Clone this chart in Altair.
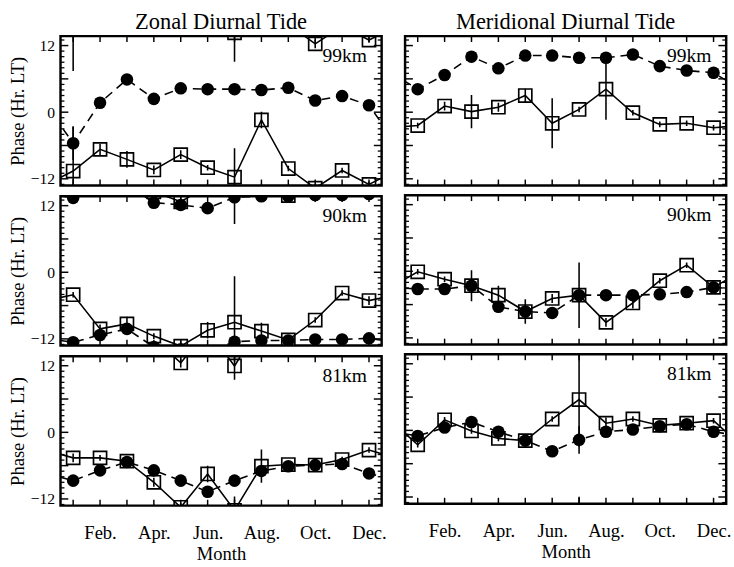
import altair as alt
import pandas as pd

SERIF = "Liberation Serif, Times New Roman, DejaVu Serif, serif"

MONTHS = list(range(1, 13))
MONTH_NAMES = ["Jan.", "Feb.", "Mar.", "Apr.", "May", "Jun.", "Jul.", "Aug.", "Sep.", "Oct.", "Nov.", "Dec."]
LABEL_MONTHS = [2, 4, 6, 8, 10, 12]
PHASE_LABELS = [-12, 0, 12]
PHASE_TICKS = list(range(-13, 14))
WRAP = 26  # offset of the repeated (wrapped) copy as drawn in the figure

# ---- Zonal diurnal tide ----
z99_circ = [-5.6, 1.7, 5.9, 2.4, 4.3, 4.15, 4.15, 4.0, 4.4, 2.1, 2.9, 1.25]
z99_circ_err = [3.0, 0.5, 0.5, 0.5, 0.5, 0.5, 0.5, 0.5, 0.5, 0.5, 0.5, 0.5]
z99_sq = [-10.6, -6.7, -8.5, -10.4, -7.65, -10.0, -11.7, -1.4, -10.15, -13.7, -10.5, -13.0]
z99_sq_err = [8.0, 1.0, 1.5, 0.8, 0.8, 0.5, 5.2, 1.5, 0.5, 0.8, 0.5, 0.5]

z90_circ = [-12.6, -11.3, -10.2, -13.47, -13.87, -14.45, -12.5, -12.3, -12.3, -12.1, -12.1, -11.9]
z90_circ_err = [0.5, 0.5, 0.5, 0.5, 0.5, 0.5, 0.5, 0.5, 0.5, 0.5, 0.5, 0.5]
z90_sq = [-4.05, -10.2, -9.3, -11.5, -13.3, -10.45, -9.0, -10.6, -12.2, -8.6, -3.75, -5.1]
z90_sq_err = [0.5, 0.8, 1.3, 0.5, 1.0, 1.5, 8.3, 1.5, 0.5, 0.5, 0.5, 0.8]

z81_circ = [-8.7, -6.85, -5.35, -6.85, -8.7, -10.7, -8.7, -6.95, -6.1, -5.9, -5.7, -7.4]
z81_circ_err = [0.5, 0.5, 0.5, 0.5, 0.5, 0.5, 0.5, 0.5, 0.5, 0.5, 0.5, 0.5]
z81_sq = [-4.6, -4.6, -5.2, -9.0, -13.5, -7.5, -14.05, -6.1, -5.8, -5.9, -4.9, -3.2]
z81_sq_err = [0.8, 0.5, 0.5, 0.8, 0.8, 1.5, 2.5, 3.0, 0.5, 0.5, 0.5, 0.5]

# ---- Meridional diurnal tide ----
m99_circ = [4.15, 6.7, 10.0, 7.9, 10.2, 10.2, 9.8, 9.8, 10.4, 8.3, 7.5, 7.1]
m99_circ_err = [0.5, 0.5, 0.5, 0.5, 0.5, 0.5, 0.5, 0.5, 0.5, 0.5, 0.5, 0.5]
m99_sq = [-2.4, 1.1, 0.1, 0.9, 3.0, -2.0, 0.5, 4.15, -0.1, -2.2, -2.0, -2.8]
m99_sq_err = [0.5, 0.8, 3.0, 0.8, 1.2, 4.5, 0.5, 5.5, 0.5, 0.5, 0.5, 0.5]

m90_circ = [-3.2, -3.2, -2.6, -6.4, -7.25, -7.5, -4.3, -4.3, -4.3, -4.15, -3.75, -2.9]
m90_circ_err = [0.5, 0.5, 0.5, 0.5, 0.5, 0.5, 0.5, 0.5, 0.5, 0.5, 0.5, 0.5]
m90_sq = [-0.1, -1.43, -2.6, -4.3, -7.25, -4.9, -4.3, -9.2, -5.7, -1.7, 1.1, -2.9]
m90_sq_err = [0.5, 0.5, 2.8, 1.7, 2.2, 0.8, 5.9, 0.8, 1.0, 0.5, 0.5, 0.5]

m81_circ = [-1.0, 0.5, 1.5, -0.25, -1.85, -3.75, -1.7, -0.25, 0.15, 0.75, 1.1, -0.25]
m81_circ_err = [0.5, 0.5, 0.5, 0.5, 0.5, 0.5, 2.5, 0.5, 0.5, 0.5, 0.5, 0.5]
m81_sq = [-2.6, 1.9, -0.1, -1.45, -1.85, 2.05, 5.55, 1.3, 2.05, 0.9, 1.3, 1.75]
m81_sq_err = [0.5, 0.5, 0.5, 0.5, 0.8, 0.5, 8.5, 1.0, 0.5, 0.5, 0.5, 0.5]

ALTITUDES = ["99km", "90km", "81km"]
COLUMN_TITLES = ["Zonal Diurnal Tide", "Meridional Diurnal Tide"]

W = 329
H = 153
X_DOMAIN = [0.53, 12.47]
Y_DOMAIN = [-13.2, 13.7]

LABEL_EXPR = "[" + ",".join("'%s'" % n for n in MONTH_NAMES) + "][datum.value - 1]"


def build_frames(circ, circ_err, sq, sq_err):
    pts, lines = [], []
    for series, vals, errs in (("circ", circ, circ_err), ("sq", sq, sq_err)):
        for k in (-WRAP, 0, WRAP):
            for m, v, e in zip(MONTHS, vals, errs):
                pts.append(dict(series=series, copy=k, month=m, phase=v + k, lo=v + k - e, hi=v + k + e))
            # cyclic continuation: previous December before January, next January after December
            ext = [(0, vals[-1])] + list(zip(MONTHS, vals)) + [(13, vals[0])]
            for m, v in ext:
                lines.append(dict(series=series, copy=k, month=m, phase=v + k))
    return pd.DataFrame(pts), pd.DataFrame(lines)


def panel(circ, circ_err, sq, sq_err, alt_label, col, row):
    pts, lines = build_frames(circ, circ_err, sq, sq_err)
    xs = alt.Scale(domain=X_DOMAIN, nice=False, zero=False)
    ys = alt.Scale(domain=Y_DOMAIN, nice=False, zero=False)
    if row == 2:
        xaxis = alt.Axis(values=LABEL_MONTHS, labelExpr=LABEL_EXPR, ticks=False, domain=False, grid=False,
                         labelFont=SERIF, labelFontSize=19, labelPadding=19, labelColor="black",
                         title="Month", titleFont=SERIF, titleFontSize=19, titleFontWeight="normal",
                         titlePadding=2, titleColor="black")
    else:
        xaxis = None
    if col == 0:
        yaxis = alt.Axis(values=PHASE_LABELS, ticks=False, domain=False, grid=False,
                         labelFont=SERIF, labelFontSize=16, labelPadding=6, labelColor="black",
                         title="Phase (Hr. LT)", titleFont=SERIF, titleFontSize=19, titleFontWeight="normal",
                         titlePadding=3, titleColor="black")
    else:
        yaxis = None

    def X(field="month"):
        return alt.X(field + ":Q", scale=xs, axis=xaxis, title="Month" if xaxis is not None else None)

    def Y(field="phase"):
        return alt.Y(field + ":Q", scale=ys, axis=yaxis, title="Phase (Hr. LT)" if yaxis is not None else None)

    sq_lines = alt.Chart(lines).transform_filter(alt.datum.series == "sq").mark_line(
        color="black", strokeWidth=1.6, clip=True).encode(x=X(), y=Y(), detail="copy:N", order="month:Q")
    ci_lines = alt.Chart(lines).transform_filter(alt.datum.series == "circ").mark_line(
        color="black", strokeWidth=1.6, strokeDash=[9, 6], clip=True).encode(
        x=X(), y=Y(), detail="copy:N", order="month:Q")
    errs = alt.Chart(pts).mark_rule(color="black", strokeWidth=1.6, clip=True).encode(
        x=X(), y=Y("lo"), y2="hi:Q")
    circles = alt.Chart(pts).transform_filter(alt.datum.series == "circ").mark_point(
        shape="circle", filled=True, color="black", size=165, opacity=1, clip=True).encode(x=X(), y=Y())
    squares = alt.Chart(pts).transform_filter(alt.datum.series == "sq").mark_point(
        shape="square", filled=False, color="black", size=180, strokeWidth=1.7, opacity=1, clip=True).encode(
        x=X(), y=Y())

    tick_df = pd.DataFrame({"phase": PHASE_TICKS})
    major = tick_df[tick_df["phase"] % 6 == 0]
    minor = tick_df[tick_df["phase"] % 6 != 0]
    month_df = pd.DataFrame({"month": MONTHS})
    tick_layers = [
        alt.Chart(major).mark_rule(color="black", strokeWidth=1.5).encode(y=Y(), x=alt.value(0), x2=alt.value(8)),
        alt.Chart(minor).mark_rule(color="black", strokeWidth=1.3).encode(y=Y(), x=alt.value(0), x2=alt.value(4)),
        alt.Chart(major).mark_rule(color="black", strokeWidth=1.5).encode(y=Y(), x=alt.value(W), x2=alt.value(W - 8)),
        alt.Chart(minor).mark_rule(color="black", strokeWidth=1.3).encode(y=Y(), x=alt.value(W), x2=alt.value(W - 4)),
        alt.Chart(month_df).mark_rule(color="black", strokeWidth=1.5).encode(x=X(), y=alt.value(0), y2=alt.value(6)),
        alt.Chart(month_df).mark_rule(color="black", strokeWidth=1.5).encode(x=X(), y=alt.value(H), y2=alt.value(H - 6)),
    ]

    label = alt.Chart(pd.DataFrame({"label": [alt_label]})).mark_text(
        align="right", baseline="alphabetic", font=SERIF, fontSize=20, color="black").encode(
        x=alt.value(W - 15), y=alt.value(26), text="label:N")

    props = dict(width=W, height=H)
    if row == 0:
        props["title"] = alt.TitleParams(COLUMN_TITLES[col], font=SERIF, fontSize=23, fontWeight="normal",
                                         color="black", offset=2)
    return alt.layer(sq_lines, ci_lines, errs, circles, squares, *tick_layers, label).properties(**props)


zonal = [(z99_circ, z99_circ_err, z99_sq, z99_sq_err),
         (z90_circ, z90_circ_err, z90_sq, z90_sq_err),
         (z81_circ, z81_circ_err, z81_sq, z81_sq_err)]
merid = [(m99_circ, m99_circ_err, m99_sq, m99_sq_err),
         (m90_circ, m90_circ_err, m90_sq, m90_sq_err),
         (m81_circ, m81_circ_err, m81_sq, m81_sq_err)]

left = alt.vconcat(*[panel(*d, ALTITUDES[i], 0, i) for i, d in enumerate(zonal)], spacing=6)
right = alt.vconcat(*[panel(*d, ALTITUDES[i], 1, i) for i, d in enumerate(merid)], spacing=6)

chart = alt.hconcat(left, right, spacing=16).properties(
    padding={"left": 7, "top": 3, "right": 2, "bottom": 0},
    background="white",
).configure_view(stroke="black", strokeWidth=2.5).configure_axis(grid=False)

chart.save("out.html", embed_options={"renderer": "svg", "actions": False})
